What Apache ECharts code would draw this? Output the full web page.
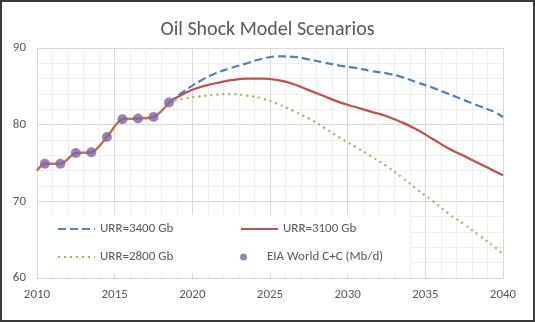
<!DOCTYPE html>
<html>
<head>
<meta charset="utf-8">
<script src="https://cdn.jsdelivr.net/npm/echarts@6/dist/echarts.min.js"></script>
<style>
  html, body { margin: 0; padding: 0; background: #fff; }
  #wrap { position: relative; width: 535px; height: 322px; }
  #chart { position: absolute; left: 0; top: 0; width: 535px; height: 322px; }
  #frame { position: absolute; left: 0; top: 0; width: 535px; height: 322px; box-sizing: border-box; border: 2px solid #3a3a3a; pointer-events: none; }
</style>
</head>
<body>
<div id="wrap"><div id="chart"></div><div id="frame"></div></div>
<script>
// ---- data ----
const title = 'Oil Shock Model Scenarios';
const xTicks = [2010, 2015, 2020, 2025, 2030, 2035, 2040];
const yTicks = [60, 70, 80, 90];

// EIA World C+C (Mb/d), annual points
const eiaYears  = [2010.5, 2011.5, 2012.5, 2013.5, 2014.5, 2015.5, 2016.5, 2017.5, 2018.5];
const eiaValues = [74.9, 74.9, 76.3, 76.4, 78.4, 80.7, 80.8, 81.0, 82.9];

// shared model fit over the historical period
const fitYears  = [2010, 2010.5, 2011.5, 2012.5, 2013.5, 2014.5, 2015.5, 2016.5, 2017.5, 2018.5];
const fitValues = [74.0, 74.9, 74.9, 76.3, 76.4, 78.4, 80.7, 80.8, 81.0, 82.9];

// scenario projections
const projYears = [2018.5, 2019.5, 2020.5, 2021.5, 2022.5, 2023.5, 2024.5, 2025.5, 2026.5, 2027.5, 2028.5,
                   2029.5, 2030.5, 2031.5, 2032.5, 2033.5, 2034.5, 2035.5, 2036.5, 2037.5, 2038.5, 2039.5, 2040];
const urr3400 = [82.9, 84.4, 85.7, 86.7, 87.4, 88.0, 88.6, 88.9, 88.85, 88.5, 88.1,
                 87.7, 87.4, 87.0, 86.7, 86.2, 85.5, 84.8, 84.0, 83.2, 82.4, 81.6, 81.0];
const urr3100 = [82.9, 84.1, 84.9, 85.4, 85.8, 86.0, 86.0, 85.8, 85.3, 84.5, 83.7,
                 82.9, 82.3, 81.7, 81.1, 80.3, 79.3, 78.1, 76.9, 75.9, 74.9, 73.9, 73.4];
const urr2800 = [82.9, 83.4, 83.7, 83.9, 84.0, 83.8, 83.4, 82.7, 81.8, 80.8, 79.6,
                 78.3, 77.1, 75.9, 74.6, 73.1, 71.5, 70.0, 68.4, 67.0, 65.5, 64.0, 63.1];

const names = ['URR=3400 Gb', 'URR=3100 Gb', 'URR=2800 Gb', 'EIA World C+C (Mb/d)'];

// ---- build ----
const zip = (xs, ys) => xs.map((x, i) => [x, ys[i]]);
const FONT = 'Carlito, "Liberation Sans", Arial, sans-serif';
const C = { blue: '#4F81BD', red: '#C0504D', green: '#9BBB59', purple: '#8064A2', hist: '#B47B52', text: '#595959' };

const chart = echarts.init(document.getElementById('chart'), null, { renderer: 'canvas' });
const legendBase = {
  orient: 'vertical', itemGap: 15, itemWidth: 37, itemHeight: 13,
  textStyle: { fontFamily: FONT, fontSize: 13, color: C.text }
};
const hiddenSym = { opacity: 0 };
chart.setOption({
  animation: false,
  title: {
    text: title, left: 'center', top: 15,
    textStyle: { fontFamily: FONT, fontSize: 20, fontWeight: 'normal', color: C.text }
  },
  grid: { left: 37, right: 32, top: 48, bottom: 44 },
  xAxis: {
    type: 'value', min: xTicks[0], max: xTicks[xTicks.length - 1], interval: 5,
    axisLine: { show: true, lineStyle: { color: '#d0d0d0' } },
    axisTick: { show: false },
    axisLabel: { color: C.text, fontFamily: FONT, fontSize: 13, margin: 10, formatter: v => String(v) },
    splitLine: { show: true, lineStyle: { color: '#d9d9d9' } },
    minorTick: { show: false, splitNumber: 5 },
    minorSplitLine: { show: true, lineStyle: { color: '#efefef' } }
  },
  yAxis: {
    type: 'value', min: yTicks[0], max: yTicks[yTicks.length - 1], interval: 10,
    axisLine: { show: false },
    axisTick: { show: false },
    axisLabel: { color: C.text, fontFamily: FONT, fontSize: 13, margin: 11 },
    splitLine: { show: true, lineStyle: { color: '#d9d9d9' } },
    minorTick: { show: false, splitNumber: 5 },
    minorSplitLine: { show: true, lineStyle: { color: '#efefef' } }
  },
  graphic: [{
    type: 'rect', z: 1, silent: true,
    shape: { x: 38, y: 215, width: 372, height: 58 },
    style: { fill: '#ffffff' }
  }],
  legend: [
    Object.assign({}, legendBase, {
      left: 52, top: 217.5,
      data: [
        { name: names[0], itemStyle: hiddenSym },
        { name: names[2], itemStyle: hiddenSym }
      ]
    }),
    Object.assign({}, legendBase, {
      left: 235, top: 217.5,
      data: [
        { name: names[1], itemStyle: hiddenSym }
      ]
    }),
    Object.assign({}, legendBase, {
      left: 235, top: 245.5, itemHeight: 7,
      data: [
        { name: names[3], icon: 'circle', itemStyle: { color: C.purple } }
      ]
    })
  ],
  series: [
    {
      name: 'fit', type: 'line', data: zip(fitYears, fitValues), smooth: 0.3, symbol: 'none', z: 3,
      lineStyle: { color: C.hist, width: 2.5 }
    },
    {
      name: names[1], type: 'line', data: zip(projYears, urr3100), smooth: 0.5, symbol: 'none', z: 3,
      itemStyle: { color: C.red }, lineStyle: { color: C.red, width: 2.25 }
    },
    {
      name: names[2], type: 'line', data: zip(projYears, urr2800), smooth: 0.5, symbol: 'none', z: 3,
      itemStyle: { color: C.green }, lineStyle: { color: C.green, width: 2.25, type: [2, 4] }
    },
    {
      name: names[0], type: 'line', data: zip(projYears, urr3400), smooth: 0.5, symbol: 'none', z: 3,
      itemStyle: { color: C.blue }, lineStyle: { color: C.blue, width: 2.25, type: [8, 4] }
    },
    {
      name: names[3], type: 'scatter', data: zip(eiaYears, eiaValues), symbol: 'circle', symbolSize: 10, z: 5,
      itemStyle: { color: C.purple }
    }
  ]
});
</script>
</body>
</html>
